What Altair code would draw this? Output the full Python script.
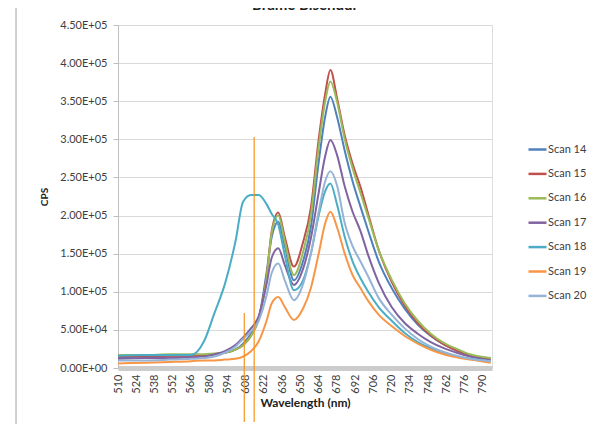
import altair as alt
import pandas as pd

title_text = "Brame Blsendur"
series_names = ["Scan 14", "Scan 15", "Scan 16", "Scan 17", "Scan 18", "Scan 19", "Scan 20"]
series_colors = ["#4F81BD", "#C0504D", "#9BBB59", "#8064A2", "#4BACC6", "#F79646", "#95B3D7"]

wavelength = [510, 530, 550, 566, 576, 584, 592, 600, 606, 612, 618, 624, 628, 633, 638, 645,
              652, 658, 664, 669, 673, 678, 684, 690, 696, 702, 710, 720, 730, 740, 750, 760,
              770, 780, 796]

scan14 = [14000, 15000, 16000, 16000, 17000, 18000, 20000, 24000, 32000, 45000, 65000, 125000,
          172000, 192000, 160000, 115000, 140000, 185000, 270000, 330000, 356000, 330000, 285000,
          245000, 212000, 180000, 140000, 105000, 78000, 57000, 42000, 31000, 23000, 17000, 12000]
scan15 = [15000, 16000, 16000, 16000, 17000, 18000, 20000, 24000, 30000, 42000, 66000, 120000,
          180000, 204000, 172000, 133000, 165000, 210000, 300000, 360000, 391000, 355000, 305000,
          268000, 238000, 202000, 155000, 113000, 82000, 59000, 43000, 31000, 23000, 17000, 12000]
scan16 = [17000, 17000, 18000, 18000, 18000, 19000, 20000, 24000, 30000, 42000, 64000, 118000,
          178000, 200000, 166000, 122000, 152000, 200000, 290000, 350000, 376000, 350000, 300000,
          262000, 230000, 198000, 155000, 116000, 85000, 62000, 45000, 33000, 25000, 18000, 13000]
scan17 = [12000, 13000, 13000, 14000, 15000, 18000, 22000, 30000, 40000, 52000, 68000, 110000,
          145000, 157000, 135000, 109000, 130000, 170000, 230000, 278000, 299000, 280000, 238000,
          205000, 180000, 148000, 112000, 80000, 59000, 45000, 34000, 26000, 20000, 15000, 10000]
scan18 = [16000, 17000, 17000, 17000, 35000, 72000, 110000, 165000, 218000, 227000, 227000, 215000,
          202000, 188000, 148000, 102000, 115000, 150000, 200000, 232000, 242000, 215000, 172000,
          140000, 118000, 100000, 80000, 62000, 46000, 34000, 26000, 19000, 15000, 12000, 9000]
scan19 = [6000, 7000, 8000, 9000, 10000, 10000, 11000, 12000, 15000, 22000, 35000, 62000,
          85000, 93000, 80000, 63000, 78000, 105000, 150000, 190000, 205000, 185000, 150000,
          122000, 105000, 88000, 70000, 55000, 42000, 32000, 24000, 18000, 14000, 11000, 7000]
scan20 = [10000, 10000, 11000, 12000, 13000, 15000, 20000, 28000, 38000, 48000, 62000, 95000,
          125000, 137000, 115000, 89000, 110000, 150000, 205000, 245000, 258000, 240000, 190000,
          160000, 140000, 120000, 92000, 70000, 52000, 38000, 28000, 21000, 16000, 12000, 9000]

x_tick_values = list(range(510, 791, 14))
y_tick_values = list(range(0, 450001, 50000))

marker_wavelength = [606.9, 614.5]
marker_top = [72000, 303000]

all_series = [scan14, scan15, scan16, scan17, scan18, scan19, scan20]
rows = []
for name, vals in zip(series_names, all_series):
    for w, v in zip(wavelength, vals):
        rows.append({"Wavelength": w, "CPS": v, "Series": name})
df = pd.DataFrame(rows)
markers = pd.DataFrame({"Wavelength": marker_wavelength, "Top": marker_top})

FONT = "Lato"
x_scale = alt.Scale(domain=[510, 797], nice=False, zero=False)
y_scale = alt.Scale(domain=[0, 450000], nice=False)

y_label_expr = ("datum.value >= 100000 ? format(datum.value/100000, '.2f') + 'E+05' : "
                "datum.value > 0 ? format(datum.value/10000, '.2f') + 'E+04' : '0.00E+00'")

x_axis = alt.Axis(values=x_tick_values, title="Wavelength (nm)", labelAngle=270,
                  labelAlign="right", labelBaseline="middle", labelPadding=6,
                  grid=False, ticks=False, domainColor="#CCCCCC", domainWidth=5,
                  labelFontSize=11, labelColor="#404040", labelFont=FONT,
                  titleFont=FONT, titleFontSize=12, titleFontWeight="bold",
                  titleColor="#202020", titlePadding=4, labelOverlap=False)
y_axis = alt.Axis(values=y_tick_values, title="CPS", labelExpr=y_label_expr,
                  grid=True, gridColor="#D9D9D9", domainColor="#BFBFBF",
                  tickColor="#BFBFBF", tickSize=5, labelPadding=6, labelOverlap=False,
                  labelFontSize=11, labelColor="#404040", labelFont=FONT,
                  titleFont=FONT, titleFontSize=10, titleFontWeight="bold",
                  titleColor="#202020", titlePadding=10)

lines = alt.Chart(df).mark_line(strokeWidth=2, clip=True, interpolate="monotone").encode(
    x=alt.X("Wavelength:Q", scale=x_scale, axis=x_axis),
    y=alt.Y("CPS:Q", scale=y_scale, axis=y_axis),
    color=alt.Color("Series:N", scale=alt.Scale(domain=series_names, range=series_colors),
                    legend=alt.Legend(title=None, orient="none", legendX=409, legendY=114,
                                      symbolType="stroke", symbolSize=324, symbolStrokeWidth=2.5,
                                      labelFont=FONT, labelFontSize=11, labelColor="#404040",
                                      rowPadding=8.4, labelOffset=0)),
)

marker_rules = alt.Chart(markers).mark_rule(color="#F7941D", strokeWidth=1.2).encode(
    x=alt.X("Wavelength:Q", scale=x_scale, axis=x_axis),
    y=alt.Y("Top:Q", scale=y_scale, axis=y_axis),
    y2=alt.value(397),
)

frame = alt.Chart(pd.DataFrame({"edge": [0]})).mark_rule(color="#A0A0A0", strokeWidth=1).encode(
    x=alt.value(-102), y=alt.value(-30), y2=alt.value(412)
)

title = alt.Chart(pd.DataFrame({"t": [title_text]})).mark_text(
    font=FONT, fontSize=15, fontWeight="bold", color="#202020", baseline="alphabetic", align="center"
).encode(text="t:N", x=alt.value(187), y=alt.value(-15))

chart = alt.layer(lines, marker_rules, frame, title).properties(
    width=374, height=343,
    padding={"left": 110, "top": 17, "right": 98, "bottom": 56},
    autosize=alt.AutoSizeParams(type="none"),
).configure_view(strokeWidth=0).configure(background="white")

chart.save("out.html", embed_options={"renderer": "svg", "actions": False})
